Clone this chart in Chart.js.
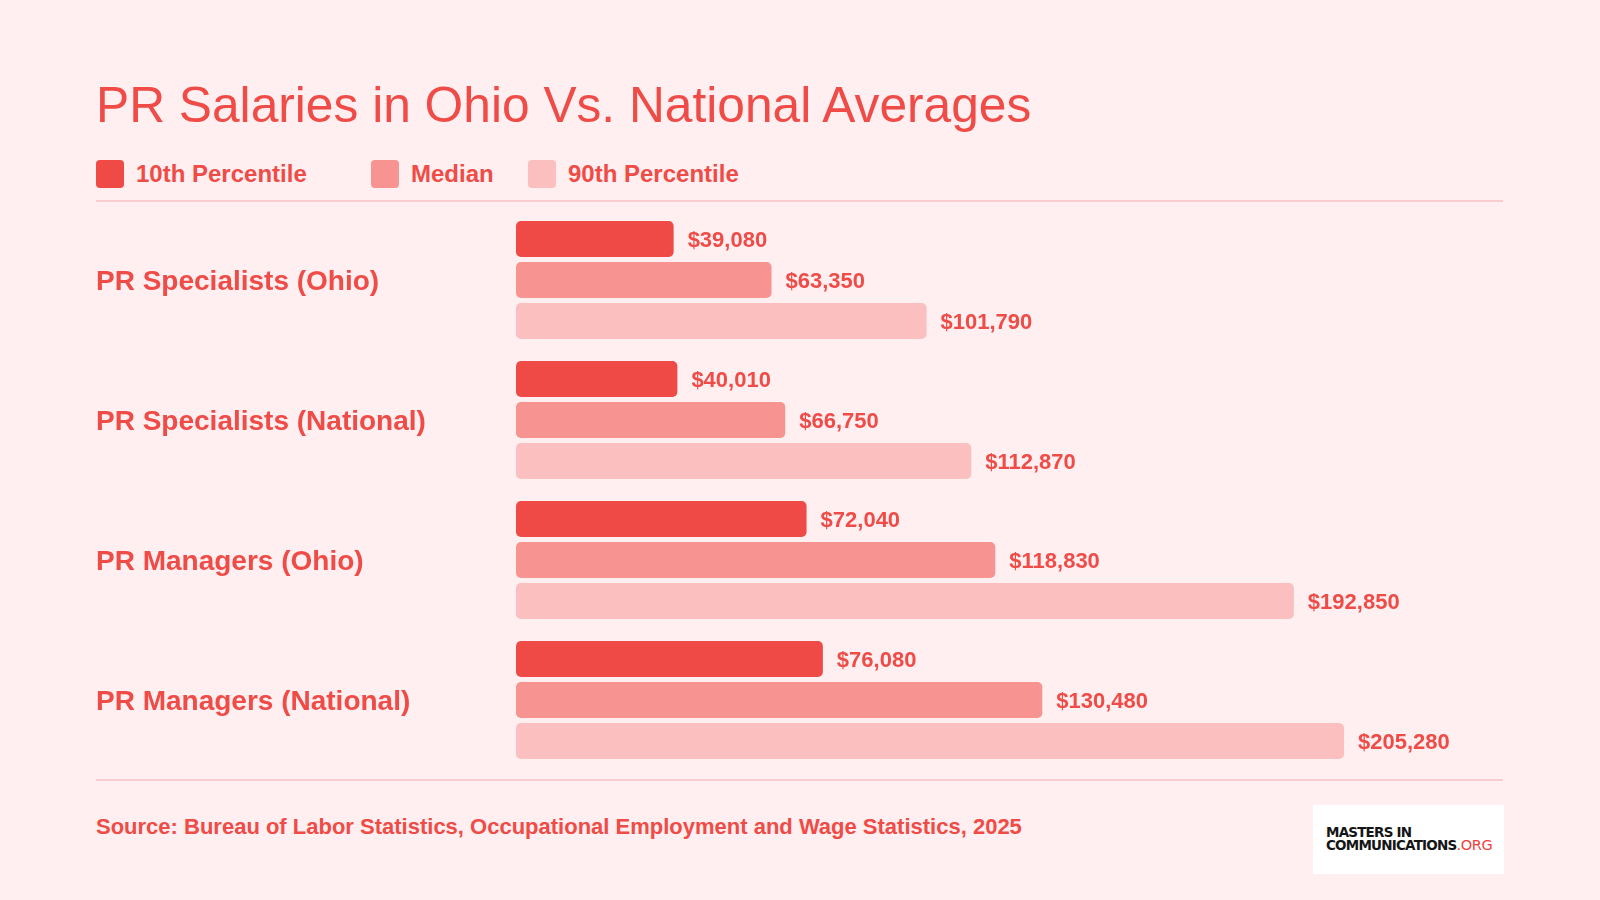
<!DOCTYPE html>
<html>
<head>
<meta charset="utf-8">
<script src="https://cdn.jsdelivr.net/npm/chart.js@4.4.1/dist/chart.umd.min.js"></script>
<style>
  html, body { margin: 0; padding: 0; }
  body { width: 1600px; height: 900px; background: #FFEFF0; position: relative; overflow: hidden;
         font-family: "Liberation Sans", Arial, sans-serif; color: #EF4B47; }
  #title { position: absolute; left: 96px; top: 80px; font-size: 49.7px; line-height: 50px; font-weight: 400; white-space: nowrap; }
  .leg { position: absolute; top: 160px; height: 28px; display: flex; align-items: center; font-weight: 700; font-size: 24px; line-height: 28px; white-space: nowrap; }
  .leg .box { width: 28px; height: 28px; border-radius: 4px; margin-right: 12px; }
  .rule { position: absolute; left: 96px; width: 1407px; height: 2px; background: #F9CDD0; }
  #source { position: absolute; left: 96px; top: 814px; font-size: 22px; line-height: 26px; font-weight: 700; white-space: nowrap; }
  #logo { position: absolute; left: 1313px; top: 805px; width: 191px; height: 69px; background: #FFFFFF; }
  #logo div { position: absolute; left: 13px; font-family: "DejaVu Sans", sans-serif; font-weight: 700; font-size: 13.5px; line-height: 14px; color: #151515; white-space: nowrap; letter-spacing: -0.8px; }
  #logo span { color: #F0413D; font-weight: 400; font-size: 14.5px; letter-spacing: -0.3px; }
  #chartWrap { position: absolute; left: 96px; top: 210px; width: 1407px; height: 560px; }
</style>
</head>
<body>
<div id="title"></div>
<div id="legend"></div>
<div class="rule" style="top:200px"></div>
<div id="chartWrap"><canvas id="c" width="1407" height="560"></canvas></div>
<div class="rule" style="top:779px"></div>
<div id="source"></div>
<div id="logo"><div style="top:20px">MASTERS IN</div><div style="top:33px">COMMUNICATIONS<span>.ORG</span></div></div>
<script>
const titleText = 'PR Salaries in Ohio Vs. National Averages';
const sourceText = 'Source: Bureau of Labor Statistics, Occupational Employment and Wage Statistics, 2025';
const categories = ['PR Specialists (Ohio)', 'PR Specialists (National)', 'PR Managers (Ohio)', 'PR Managers (National)'];
const seriesNames = ['10th Percentile', 'Median', '90th Percentile'];
const p10Values = [39080, 40010, 72040, 76080];
const medianValues = [63350, 66750, 118830, 130480];
const p90Values = [101790, 112870, 192850, 205280];
const seriesColors = ['#F04A46', '#F79492', '#FABFBE'];
const legendLefts = [96, 371, 528];

document.getElementById('title').textContent = titleText;
document.getElementById('source').textContent = sourceText;
const legendEl = document.getElementById('legend');
seriesNames.forEach((n, i) => {
  const d = document.createElement('div');
  d.className = 'leg';
  d.style.left = legendLefts[i] + 'px';
  d.innerHTML = '<div class="box" style="background:' + seriesColors[i] + '"></div><span></span>';
  d.querySelector('span').textContent = n;
  legendEl.appendChild(d);
});

const fmt = v => '$' + v.toLocaleString('en-US');

const valueLabels = {
  id: 'valueLabels',
  afterDatasetsDraw(chart) {
    const ctx = chart.ctx;
    ctx.save();
    ctx.font = 'bold 22px "Liberation Sans", Arial, sans-serif';
    ctx.fillStyle = '#EF4B47';
    ctx.textBaseline = 'middle';
    ctx.textAlign = 'left';
    chart.data.datasets.forEach((ds, di) => {
      chart.getDatasetMeta(di).data.forEach((bar, i) => {
        ctx.fillText(fmt(ds.data[i]), bar.x + 14, bar.y + 2);
      });
    });
    ctx.restore();
  }
};

const seriesData = [p10Values, medianValues, p90Values];
new Chart(document.getElementById('c'), {
  type: 'bar',
  data: {
    labels: categories,
    datasets: seriesNames.map((n, i) => ({
      label: n,
      data: seriesData[i],
      backgroundColor: seriesColors[i],
      borderRadius: 5,
      borderSkipped: false,
      categoryPercentage: 0.879,
      barPercentage: 0.878
    }))
  },
  options: {
    indexAxis: 'y',
    responsive: false,
    devicePixelRatio: 1,
    animation: false,
    layout: { padding: 0 },
    plugins: { legend: { display: false }, tooltip: { enabled: false }, title: { display: false } },
    scales: {
      x: { type: 'linear', min: 0, max: 244700, display: false },
      y: {
        grid: { display: false },
        border: { display: false },
        afterFit: s => { s.width = 420; s.paddingTop = 0; s.paddingBottom = 0; },
        ticks: {
          crossAlign: 'far',
          padding: 0,
          labelOffset: 2,
          color: '#EF4B47',
          font: { family: '"Liberation Sans", Arial, sans-serif', size: 28, weight: 'bold' }
        }
      }
    }
  },
  plugins: [valueLabels]
});
</script>
</body>
</html>
